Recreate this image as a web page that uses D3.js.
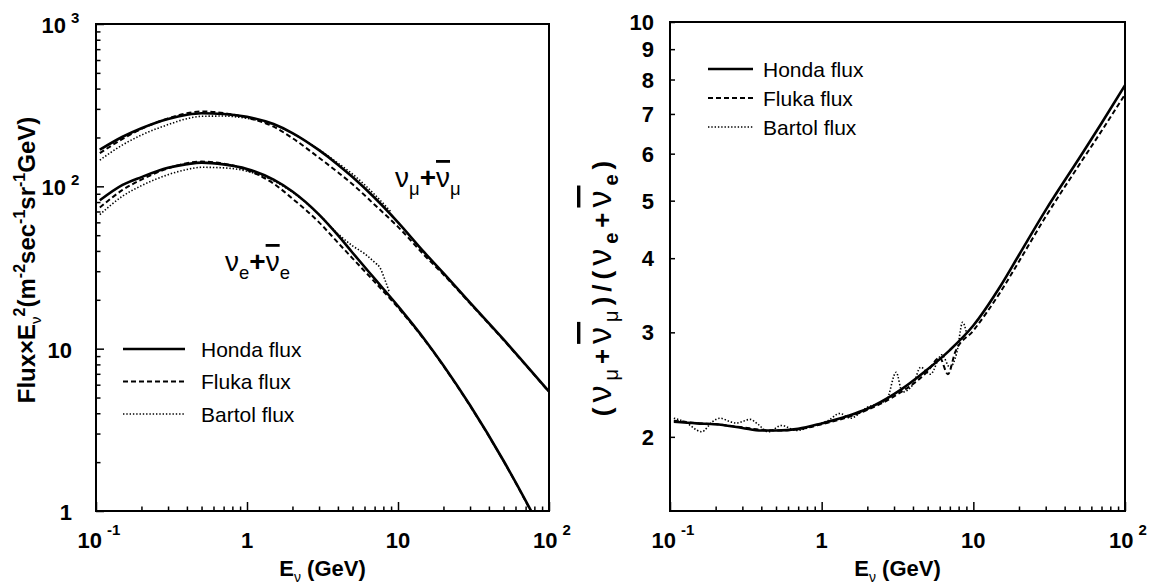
<!DOCTYPE html>
<html>
<head>
<meta charset="utf-8">
<script src="https://cdn.jsdelivr.net/npm/d3@7"></script>
<style>
  body { margin: 0; background: #fff; }
  text { font-family: "Liberation Sans", Arial, sans-serif; fill: #000; }
</style>
</head>
<body>
<svg id="chart" width="1160" height="587"></svg>
<script>
// ---- Atmospheric neutrino fluxes, E^2-weighted (m^-2 sec^-1 sr^-1 GeV) ----
const fluxEnergy = [0.106, 0.15, 0.2, 0.3, 0.4, 0.5, 0.7, 1, 1.5, 2, 3, 4, 5, 7, 10, 15, 20, 30, 50, 70, 100];
const hondaNuMu  = [168, 202, 228, 260, 276, 282, 279, 268, 242, 213, 167, 136, 114, 85, 60, 39, 29.2, 19.2, 11.4, 7.97, 5.45];
const flukaNuMu  = [160, 196, 226, 262, 282, 289, 283, 265, 233, 198, 150, 122, 103, 77, 56.3, 37.5, 28.6, 19.0, 11.3, 7.92, 5.42];
const hondaNuE   = [82, 102, 114, 130, 137, 140, 136.6, 128, 110, 93, 67, 50, 39, 27, 18.3, 11.4, 7.88, 4.48, 2.04, 1.16, 0.61];
const flukaNuE   = [74, 95, 110, 129, 139, 142, 138, 126, 104, 84, 60, 45, 36, 25.8, 17.9, 11.3, 7.82, 4.45, 2.03, 1.15, 0.6];

// Bartol tables stop near 10 GeV
const bartolMuEnergy = [0.106, 0.15, 0.2, 0.3, 0.4, 0.5, 0.7, 1, 1.5, 2, 3, 4, 5, 7, 9];
const bartolNuMu     = [145, 180, 207, 240, 261, 270, 271, 262, 240, 212, 168, 139, 119, 89, 69.5];
const bartolEEnergy  = [0.106, 0.15, 0.2, 0.3, 0.4, 0.5, 0.7, 1, 1.5, 2, 3, 4, 5, 6, 7, 7.6, 8.2, 8.8];
const bartolNuE      = [67, 87, 101, 118, 127, 131, 130, 124, 108, 92, 67, 51, 43, 38.5, 34, 31.5, 26.5, 22];

// ---- Flavour ratio (nu_mu + anti-nu_mu) / (nu_e + anti-nu_e) ----
const ratioEnergy = [0.106, 0.15, 0.2, 0.3, 0.4, 0.5, 0.7, 1, 1.5, 2, 3, 5, 7, 10, 15, 20, 30, 50, 70, 100];
const hondaRatio  = [2.12, 2.107, 2.10, 2.07, 2.05, 2.05, 2.063, 2.107, 2.17, 2.23, 2.36, 2.6, 2.8, 3.08, 3.58, 4.05, 4.82, 5.9, 6.75, 7.82];
const flukaRatioEnergy = [0.106, 0.15, 0.2, 0.3, 0.4, 0.5, 0.7, 1, 1.5, 2, 3, 5, 6, 6.8, 7.6, 10, 15, 20, 30, 50, 70, 100];
const flukaRatio       = [2.13, 2.11, 2.10, 2.075, 2.055, 2.05, 2.06, 2.10, 2.16, 2.22, 2.34, 2.58, 2.72, 2.55, 2.78, 3.02, 3.5, 3.95, 4.7, 5.75, 6.55, 7.55];
const bartolRatioEnergy = [0.106, 0.125, 0.162, 0.19, 0.214, 0.25, 0.275, 0.337, 0.38, 0.444, 0.545, 0.68, 0.89, 1.1, 1.32, 1.54, 1.98, 2.68, 3.1, 3.4, 4.0, 4.5, 5.2, 6.2, 7.0, 7.8, 8.5, 9.0];
const bartolRatio       = [2.15, 2.12, 2.04, 2.12, 2.15, 2.12, 2.11, 2.14, 2.10, 2.04, 2.09, 2.05, 2.09, 2.13, 2.19, 2.15, 2.24, 2.31, 2.57, 2.38, 2.45, 2.62, 2.55, 2.75, 2.62, 2.78, 3.12, 3.0];

// ---- Tick labels ----
const energyTicks    = [0.1, 1, 10, 100];
const energyTickBase = ["10", "1", "10", "10"];
const energyTickExp  = ["-1", "", "", "2"];
const fluxTicks      = [1, 10, 100, 1000];
const fluxTickBase   = ["1", "10", "10", "10"];
const fluxTickExp    = ["", "", "2", "3"];
const ratioTicks     = [2, 3, 4, 5, 6, 7, 8, 9, 10];

const legendNames = ["Honda flux", "Fluka flux", "Bartol flux"];

// ---------------------------------------------------------------------
const svg = d3.select("#chart");

const styles = {
  honda:  { width: 2.6, dash: null },
  fluka:  { width: 2.0, dash: "5,3" },
  bartol: { width: 1.6, dash: "1.4,1.9" }
};
const legendStyles = [styles.honda, styles.fluka, styles.bartol];

function zip(xs, ys) { return xs.map((x, i) => [x, ys[i]]); }

// text with sub/superscript runs; each part: {t, shift, size, weight, bar}
function richText(parent, x, y, parts, attrs) {
  const t = parent.append("text").attr("x", x).attr("y", y);
  Object.entries(attrs || {}).forEach(([k, v]) => t.attr(k, v));
  let shift = 0;
  parts.forEach(p => {
    const s = p.shift || 0;
    const ts = t.append("tspan").attr("dy", s - shift).text(p.t);
    if (p.size) ts.attr("font-size", p.size);
    if (p.weight) ts.attr("font-weight", p.weight);
    if (p.dx) ts.attr("dx", p.dx);
    if (p.bar) ts.attr("text-decoration", "overline");
    shift = s;
  });
  return t;
}

function decadeMinors(lo, hi) {
  const out = [];
  for (let d = lo; d < hi; d *= 10) for (let k = 2; k <= 9; k++) out.push(k * d);
  return out;
}

function drawPanel(cfg) {
  const { x, y, id } = cfg;
  const [x0, x1] = x.range();
  const [y1, y0] = y.range();
  const g = svg.append("g");

  svg.append("clipPath").attr("id", id).append("rect")
    .attr("x", x0).attr("y", y0).attr("width", x1 - x0).attr("height", y1 - y0);

  // curves
  const line = d3.line().x(d => x(d[0])).y(d => y(d[1])).curve(d3.curveMonotoneX);
  const plot = g.append("g").attr("clip-path", `url(#${id})`);
  cfg.series.forEach(s => {
    plot.append("path").datum(s.data)
      .attr("d", line)
      .attr("fill", "none").attr("stroke", "#000")
      .attr("stroke-width", s.style.width)
      .attr("stroke-dasharray", s.style.dash)
      .attr("stroke-linejoin", "round");
  });

  // ticks (drawn inward)
  const tickStyle = sel => { sel.select(".domain").remove(); sel.selectAll("line").attr("stroke", "#000").attr("stroke-width", 1.5); };
  g.append("g").attr("transform", `translate(0,${y1})`)
    .call(d3.axisBottom(x).tickValues(energyTicks).tickSize(-9).tickFormat(""))
    .call(tickStyle);
  g.append("g").attr("transform", `translate(0,${y1})`)
    .call(d3.axisBottom(x).tickValues(decadeMinors(0.1, 100)).tickSize(-4.5).tickFormat(""))
    .call(tickStyle);
  cfg.yAxes(g, tickStyle);

  // frame
  g.append("rect").attr("x", x0).attr("y", y0).attr("width", x1 - x0).attr("height", y1 - y0)
    .attr("fill", "none").attr("stroke", "#000").attr("stroke-width", 2);

  // energy labels
  energyTicks.forEach((v, i) => {
    const parts = [{ t: energyTickBase[i] }];
    if (energyTickExp[i]) parts.push({ t: energyTickExp[i], shift: -13, size: 15, dx: 5 });
    richText(g, x(v) + (energyTickExp[i] ? 3 : 0), y1 + 37, parts,
      { "text-anchor": "middle", "font-size": 22, "font-weight": "bold" });
  });

  // x title
  richText(g, (x0 + x1) / 2, y1 + 65, [
    { t: "E" }, { t: "ν", shift: 6, size: 14, weight: "normal" }, { t: " (GeV)", shift: 0 }
  ], { "text-anchor": "middle", "font-size": 22, "font-weight": "bold" });

  // legend
  const lg = g.append("g");
  legendNames.forEach((name, i) => {
    const ly = cfg.legend.y + i * cfg.legend.dy;
    lg.append("line").attr("x1", cfg.legend.x).attr("x2", cfg.legend.x + cfg.legend.len)
      .attr("y1", ly).attr("y2", ly).attr("stroke", "#000")
      .attr("stroke-width", legendStyles[i].width).attr("stroke-dasharray", legendStyles[i].dash);
    lg.append("text").attr("x", cfg.legend.x + cfg.legend.len + cfg.legend.gap).attr("y", ly)
      .attr("dominant-baseline", "central").attr("font-size", 21).text(name);
  });
  return g;
}

// ---------------- Left: fluxes ----------------
const xL = d3.scaleLog().domain([0.1, 100]).range([96, 549]);
const yL = d3.scaleLog().domain([1, 1000]).range([511, 24]);

const gL = drawPanel({
  id: "clipFlux", x: xL, y: yL,
  series: [
    { data: zip(fluxEnergy, hondaNuMu), style: styles.honda },
    { data: zip(fluxEnergy, flukaNuMu), style: styles.fluka },
    { data: zip(bartolMuEnergy, bartolNuMu), style: styles.bartol },
    { data: zip(fluxEnergy, hondaNuE), style: styles.honda },
    { data: zip(fluxEnergy, flukaNuE), style: styles.fluka },
    { data: zip(bartolEEnergy, bartolNuE), style: styles.bartol }
  ],
  legend: { x: 123, len: 62, gap: 16, y: 349, dy: 32.5 },
  yAxes: (g, tickStyle) => {
    g.append("g").attr("transform", "translate(96,0)")
      .call(d3.axisLeft(yL).tickValues(fluxTicks).tickSize(-8).tickFormat(""))
      .call(tickStyle);
    g.append("g").attr("transform", "translate(96,0)")
      .call(d3.axisLeft(yL).tickValues(decadeMinors(1, 1000)).tickSize(-4.5).tickFormat(""))
      .call(tickStyle);
    fluxTicks.forEach((v, i) => {
      if (fluxTickExp[i]) {
        g.append("text").attr("x", 66).attr("y", yL(v) + 9).attr("text-anchor", "end")
          .attr("font-size", 22).attr("font-weight", "bold").text(fluxTickBase[i]);
        g.append("text").attr("x", 71).attr("y", yL(v) - 1).attr("font-size", 15)
          .attr("font-weight", "bold").text(fluxTickExp[i]);
      } else {
        g.append("text").attr("x", 72).attr("y", yL(v) + 9).attr("text-anchor", "end")
          .attr("font-size", 22).attr("font-weight", "bold").text(fluxTickBase[i]);
      }
    });
  }
});

// y title
richText(gL.append("g").attr("transform", "translate(35,260) rotate(-90)"), 0, 0, [
  { t: "Flux×E" },
  { t: "ν", shift: 6, size: 15, weight: "normal" },
  { t: "2", shift: -10, size: 16 },
  { t: "(m", shift: 0 },
  { t: "-2", shift: -10, size: 16 },
  { t: "sec", shift: 0 },
  { t: "-1", shift: -10, size: 16 },
  { t: "sr", shift: 0 },
  { t: "-1", shift: -10, size: 16 },
  { t: "GeV)", shift: 0 }
], { "text-anchor": "middle", "font-size": 24, "font-weight": "bold" });

// curve annotations
function flavourLabel(parent, x, y, flav, size) {
  return richText(parent, x, y, [
    { t: "ν" },
    { t: flav, shift: 8, size: size * 0.66 },
    { t: "+", shift: 0, weight: "bold" },
    { t: "ν", bar: true },
    { t: flav, shift: 8, size: size * 0.66 }
  ], { "font-size": size });
}
flavourLabel(gL, 395, 187, "μ", 28);
flavourLabel(gL, 225, 271, "e", 28);

// ---------------- Right: ratio ----------------
const xR = d3.scaleLog().domain([0.1, 100]).range([670, 1125]);
const yR = d3.scaleLog().domain([1.5, 10]).range([511, 22]);

const gR = drawPanel({
  id: "clipRatio", x: xR, y: yR,
  series: [
    { data: zip(ratioEnergy, hondaRatio), style: styles.honda },
    { data: zip(flukaRatioEnergy, flukaRatio), style: styles.fluka },
    { data: zip(bartolRatioEnergy, bartolRatio), style: styles.bartol }
  ],
  legend: { x: 708, len: 45, gap: 10, y: 69, dy: 29 },
  yAxes: (g, tickStyle) => {
    g.append("g").attr("transform", "translate(670,0)")
      .call(d3.axisLeft(yR).tickValues(ratioTicks).tickSize(-5).tickFormat(""))
      .call(tickStyle);
    ratioTicks.forEach(v => {
      g.append("text").attr("x", 654).attr("y", yR(v) + 8).attr("text-anchor", "end")
        .attr("font-size", 22).attr("font-weight", "bold").text(v);
    });
  }
});

richText(gR.append("g").attr("transform", "translate(611,286) rotate(-90)"), 0, 0, [
  { t: "(" },
  { t: "ν", weight: "normal", size: 34 },
  { t: "μ", shift: 7, size: 20, weight: "normal" },
  { t: "+", shift: 0 },
  { t: "ν", weight: "normal", size: 34, bar: true },
  { t: "μ", shift: 7, size: 20, weight: "normal" },
  { t: ")/(", shift: 0 },
  { t: "ν", weight: "normal", size: 34 },
  { t: "e", shift: 7, size: 20 },
  { t: "+", shift: 0 },
  { t: "ν", weight: "normal", size: 34, bar: true },
  { t: "e", shift: 7, size: 20 },
  { t: ")", shift: 0 }
], { "text-anchor": "middle", "font-size": 26, "font-weight": "bold", "letter-spacing": 5 });
</script>
</body>
</html>
